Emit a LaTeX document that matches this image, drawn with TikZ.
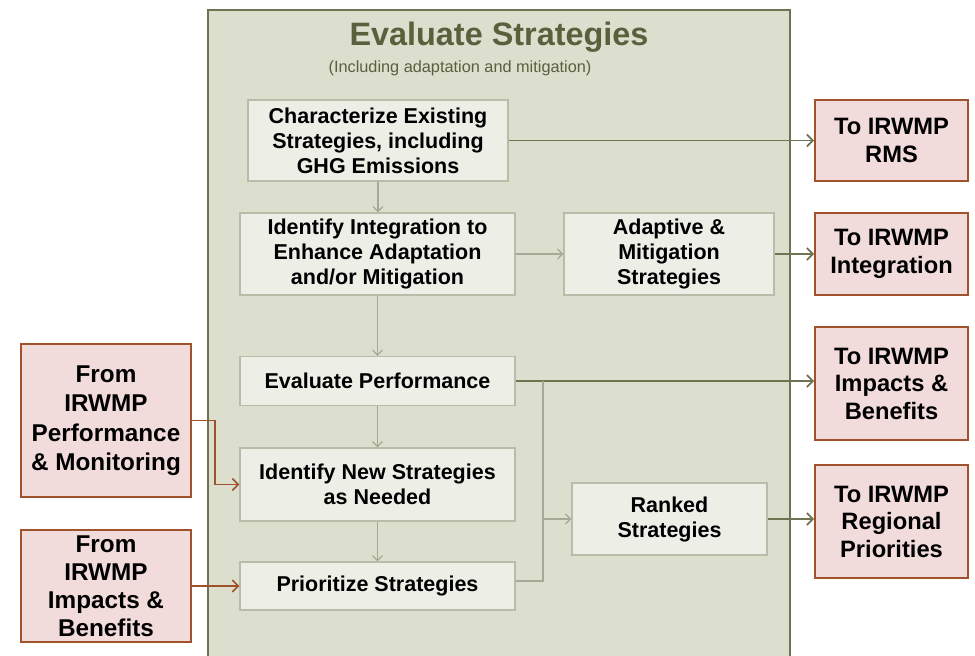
\documentclass[tikz,border=0pt]{standalone}
\usepackage{fontspec}
\setmainfont{Liberation Sans}
\usetikzlibrary{arrows.meta}
\definecolor{panelfill}{HTML}{DCDECE}
\definecolor{panelline}{HTML}{6E7452}
\definecolor{boxfill}{HTML}{EDEEE6}
\definecolor{boxline}{HTML}{B9BCA8}
\definecolor{pinkfill}{HTML}{F2DBDB}
\definecolor{pinkline}{HTML}{A0522D}
\definecolor{brownarrow}{HTML}{A0522D}
\definecolor{olivearrow}{HTML}{6E7452}
\definecolor{greyarrow}{HTML}{A6A995}
\definecolor{titlecol}{HTML}{5B5F3C}
\begin{document}
\begin{tikzpicture}[x=1pt,y=-1pt,
  inbox/.style={draw=boxline, line width=1.2pt, fill=boxfill, align=center, inner sep=0pt,
    font=\bfseries\fontsize{21.5}{25}\selectfont},
  pinkbox/.style={draw=pinkline, line width=1.6pt, fill=pinkfill, align=center, inner sep=0pt,
    minimum width=153pt, font=\bfseries\fontsize{23.7}{27.5}\selectfont},
  olivearr/.style={draw=olivearrow, line width=1.8pt, -{Straight Barb[length=6pt,width=12pt]}},
  greyarr/.style={draw=greyarrow, line width=1.2pt, -{Straight Barb[length=5pt,width=10pt]}},
  greyline/.style={draw=greyarrow, line width=1.6pt},
  brownarr/.style={draw=brownarrow, line width=1.6pt, -{Straight Barb[length=6pt,width=12pt]}}]
\useasboundingbox (0,0) rectangle (975,656);
\fill[white] (0,0) rectangle (975,656);
% panel
\fill[panelfill] (208,10) rectangle (790,656);
\draw[panelline, line width=1.6pt] (208,656) -- (208,10) -- (790,10) -- (790,656);
\node[font=\bfseries\fontsize{32.4}{36}\selectfont, text=titlecol] (title) at (499,37) {Evaluate Strategies};
\node[font=\fontsize{16.3}{18}\selectfont, text=titlecol] (sub) at (460,68) {(Including adaptation and mitigation)};
% inner boxes
\node[inbox, minimum width=260pt, minimum height=81pt] (b1) at (378,140.5) {Characterize Existing\\Strategies, including\\GHG Emissions};
\node[inbox, minimum width=275pt, minimum height=82pt] (b2) at (377.5,254) {Identify Integration to\\Enhance Adaptation\\and/or Mitigation};
\node[inbox, minimum width=210pt, minimum height=82pt] (b3) at (669,254) {Adaptive \&\\Mitigation\\Strategies};
\node[inbox, minimum width=275pt, minimum height=49pt] (b4) at (377.5,381) {Evaluate Performance};
\node[inbox, minimum width=275pt, minimum height=73pt] (b5) at (377.5,484.5) {Identify New Strategies\\as Needed};
\node[inbox, minimum width=275pt, minimum height=48pt] (b6) at (377.5,586) {Prioritize Strategies};
\node[inbox, minimum width=195pt, minimum height=72pt] (b7) at (669.5,519) {Ranked\\Strategies};
% right pink boxes
\node[pinkbox, minimum height=81pt] (rms) at (891.5,140.5) {To IRWMP\\RMS};
\node[pinkbox, minimum height=82pt] (integ) at (891.5,254) {To IRWMP\\Integration};
\node[pinkbox, minimum height=113pt] (impacts) at (891.5,383.5) {To IRWMP\\Impacts \&\\Benefits};
\node[pinkbox, minimum height=113pt] (regional) at (891.5,521.5) {To IRWMP\\Regional\\Priorities};
% left pink boxes
\node[pinkbox, minimum width=170pt, minimum height=153pt, font=\bfseries\fontsize{24.3}{29.5}\selectfont] (fromperf) at (106,420.5) {From\\IRWMP\\Performance\\\& Monitoring};
\node[pinkbox, minimum width=170pt, minimum height=112pt, font=\bfseries\fontsize{24.3}{28}\selectfont] (fromimp) at (106,586) {From\\IRWMP\\Impacts \&\\Benefits};
% connectors
\draw[olivearr] (b1.east) -- (b1.east -| rms.west);
\draw[greyarr] (b1.south) -- (b1.south |- b2.north);
\draw[greyarr] (b2.east) -- (b3.west);
\draw[olivearr] (b3.east) -- (integ.west);
\draw[greyarr] (b2.south) -- (b4.north);
\draw[olivearr] (b4.east) -- (b4.east -| impacts.west);
\draw[greyarr] (b4.south) -- (b5.north);
\draw[greyarr] (b5.south) -- (b6.north);
\coordinate (j1) at (543,381);
\coordinate (j2) at (543,581);
\coordinate (j3) at (543,519);
\draw[greyline] (b6.east |- j2) -- (j2) -- (j1);
\draw[greyarr] (j3) -- (b7.west);
\draw[olivearr] (b7.east) -- (b7.east -| regional.west);
\coordinate (k1) at (215,420.5);
\draw[brownarr] (fromperf.east) -- (k1) |- (b5.west);
\draw[brownarr] (fromimp.east) -- (b6.west);
\end{tikzpicture}
\end{document}
